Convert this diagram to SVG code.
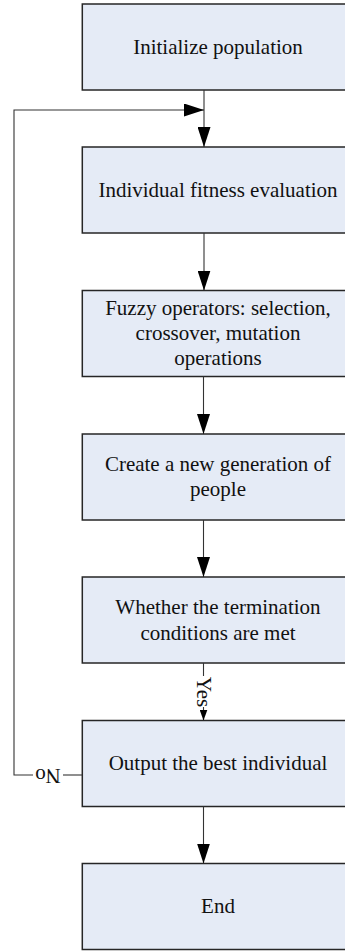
<svg xmlns="http://www.w3.org/2000/svg" width="345" height="951" viewBox="0 0 345 951">
<style>
.box{fill:#E5EBF6;stroke:#262626;stroke-width:1.5}
.t{font-family:"Liberation Serif","Times New Roman",serif;font-size:21px;fill:#111;text-anchor:middle}
.c{fill:none;stroke:#333;stroke-width:1.1}
</style>
<defs>
<marker id="ah" markerUnits="userSpaceOnUse" markerWidth="20" markerHeight="13" refX="20" refY="6.5" orient="auto">
<path d="M0,0 L20,6.5 L0,13 z" fill="#000"/>
</marker>
<marker id="ahs" markerUnits="userSpaceOnUse" markerWidth="11" markerHeight="8" refX="11" refY="4" orient="auto">
<path d="M0,0 L11,4 L0,8 z" fill="#000"/>
</marker>
</defs>
<g id="n1"><rect class="box" x="82.3" y="4" width="280" height="86"/><text class="t" x="218" y="54">Initialize population</text></g>
<g id="n2"><rect class="box" x="82.3" y="147" width="280" height="86"/><text class="t" x="218" y="197">Individual fitness evaluation</text></g>
<g id="n3"><rect class="box" x="82.3" y="290.5" width="280" height="86"/><text class="t" x="218" y="315">Fuzzy operators: selection,</text><text class="t" x="218" y="340">crossover, mutation</text><text class="t" x="218" y="365">operations</text></g>
<g id="n4"><rect class="box" x="82.3" y="434" width="280" height="86"/><text class="t" x="218" y="471">Create a new generation of</text><text class="t" x="218" y="496">people</text></g>
<g id="n5"><rect class="box" x="82.3" y="577" width="280" height="86"/><text class="t" x="218" y="614">Whether the termination</text><text class="t" x="218" y="640">conditions are met</text></g>
<g id="n6"><rect class="box" x="82.3" y="720.5" width="280" height="86"/><text class="t" x="218" y="770">Output the best individual</text></g>
<g id="n7"><rect class="box" x="82.3" y="863.5" width="280" height="86"/><text class="t" x="218" y="913">End</text></g>
<g id="connectors">
<path class="c" d="M204,90 V147" marker-end="url(#ah)"/>
<path class="c" d="M204,233 V290.5" marker-end="url(#ah)"/>
<path class="c" d="M203.5,376.5 V434" marker-end="url(#ah)"/>
<path class="c" d="M203.5,520 V577" marker-end="url(#ah)"/>
<path class="c" d="M203.5,663 V676"/>
<path class="c" d="M203.5,707 V720.5" marker-end="url(#ahs)"/>
<text class="t" transform="translate(203.5,692) rotate(90)" y="7">Yes</text>
<path class="c" d="M203.5,806.5 V863.5" marker-end="url(#ah)"/>
<path class="c" d="M82.3,775 H63"/>
<path class="c" d="M33,775 H14 V110 H204" marker-end="url(#ah)"/>
<text class="t" transform="translate(48,776) rotate(180)" y="7">No</text>
</g>
</svg>
